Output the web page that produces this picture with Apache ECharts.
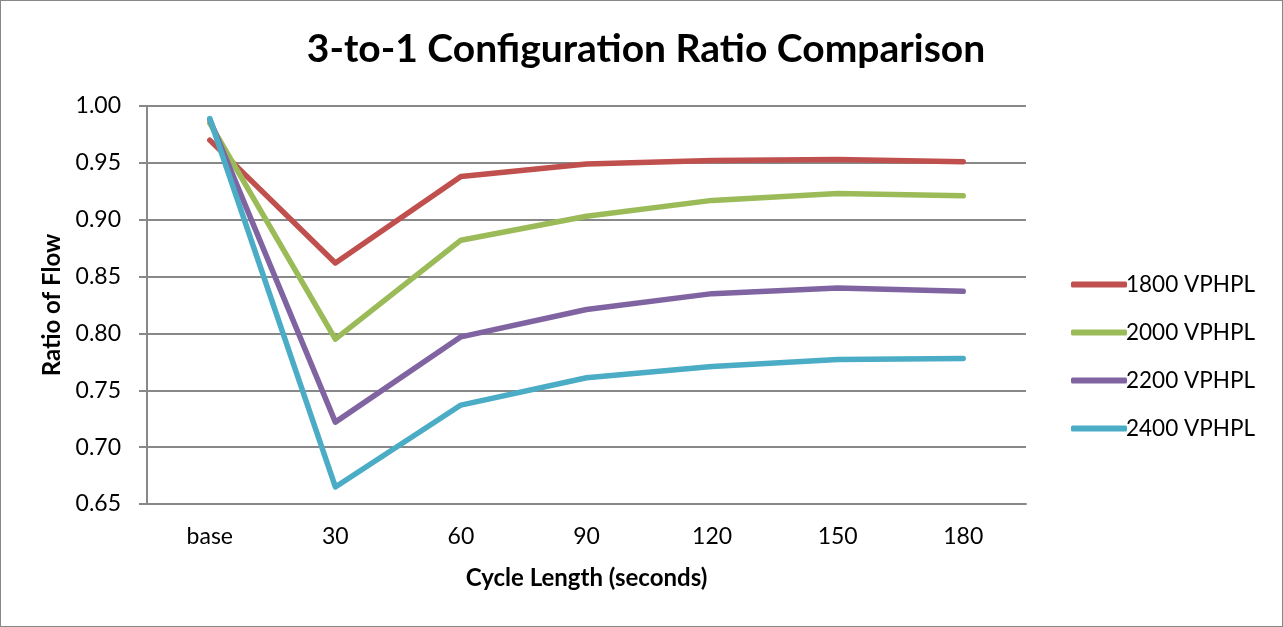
<!DOCTYPE html>
<html>
<head>
<meta charset="utf-8">
<script src="https://cdn.jsdelivr.net/npm/echarts@6/dist/echarts.min.js"></script>
<style>
  html, body { margin: 0; padding: 0; background: #fff; }
  #chart { width: 1283px; height: 627px; box-sizing: border-box; border: 1px solid #888; }
</style>
</head>
<body>
<div id="chart"></div>
<script>
// Cycle length categories (seconds)
const categories = ['base', '30', '60', '90', '120', '150', '180'];

// Ratio of flow for each demand level
const flow1800 = [0.970, 0.862, 0.938, 0.949, 0.952, 0.953, 0.951];
const flow2000 = [0.985, 0.795, 0.882, 0.903, 0.917, 0.923, 0.921];
const flow2200 = [0.988, 0.722, 0.797, 0.821, 0.835, 0.840, 0.837];
const flow2400 = [0.989, 0.665, 0.737, 0.761, 0.771, 0.777, 0.778];

const seriesNames = ['1800 VPHPL', '2000 VPHPL', '2200 VPHPL', '2400 VPHPL'];
const seriesData = [flow1800, flow2000, flow2200, flow2400];
const colors = ['#C0504D', '#9BBB59', '#8064A2', '#4BACC6'];

const FONT = 'Lato, "Open Sans", sans-serif';

const chart = echarts.init(document.getElementById('chart'), null, { renderer: 'canvas' });

chart.setOption({
  animation: false,
  backgroundColor: '#fff',
  title: {
    text: '3-to-1 Configuration Ratio Comparison',
    left: 640, top: 24, textAlign: 'center',
    textStyle: { fontFamily: FONT, fontSize: 39, fontWeight: 'bold', color: '#000' }
  },
  legend: {
    orient: 'vertical',
    left: 1065, top: 267,
    itemWidth: 56, itemHeight: 6, itemGap: 25,
    icon: 'roundRect',
    data: seriesNames,
    textStyle: { fontFamily: FONT, fontSize: 22.5, color: '#000', padding: [0, 0, 0, -6] }
  },
  grid: { left: 146, right: 256, top: 105, bottom: 122, containLabel: false },
  xAxis: {
    type: 'category',
    data: categories,
    boundaryGap: true,
    name: 'Cycle Length (seconds)',
    nameLocation: 'middle', nameGap: 62,
    nameTextStyle: { fontFamily: FONT, fontSize: 24, fontWeight: 'bold', color: '#000' },
    axisLine: { lineStyle: { color: '#888', width: 2 } },
    axisTick: { show: false },
    axisLabel: { fontFamily: FONT, fontSize: 23, color: '#000', margin: 21 }
  },
  yAxis: {
    type: 'value',
    min: 0.65, max: 1.0, interval: 0.05,
    name: 'Ratio of Flow',
    nameLocation: 'middle', nameGap: 83,
    nameTextStyle: { fontFamily: FONT, fontSize: 24, fontWeight: 'bold', color: '#000' },
    axisLine: { show: true, lineStyle: { color: '#888', width: 2 } },
    axisTick: { show: true, length: 8, lineStyle: { color: '#888', width: 2 } },
    axisLabel: {
      fontFamily: FONT, fontSize: 23, color: '#000', margin: 26,
      formatter: v => v.toFixed(2)
    },
    splitLine: { lineStyle: { color: '#888', width: 2 } }
  },
  series: seriesNames.map((name, i) => ({
    name,
    type: 'line',
    data: seriesData[i],
    symbol: 'none',
    color: colors[i],
    lineStyle: { width: 5.5, color: colors[i], cap: 'round', join: 'round' }
  }))
});
</script>
</body>
</html>
